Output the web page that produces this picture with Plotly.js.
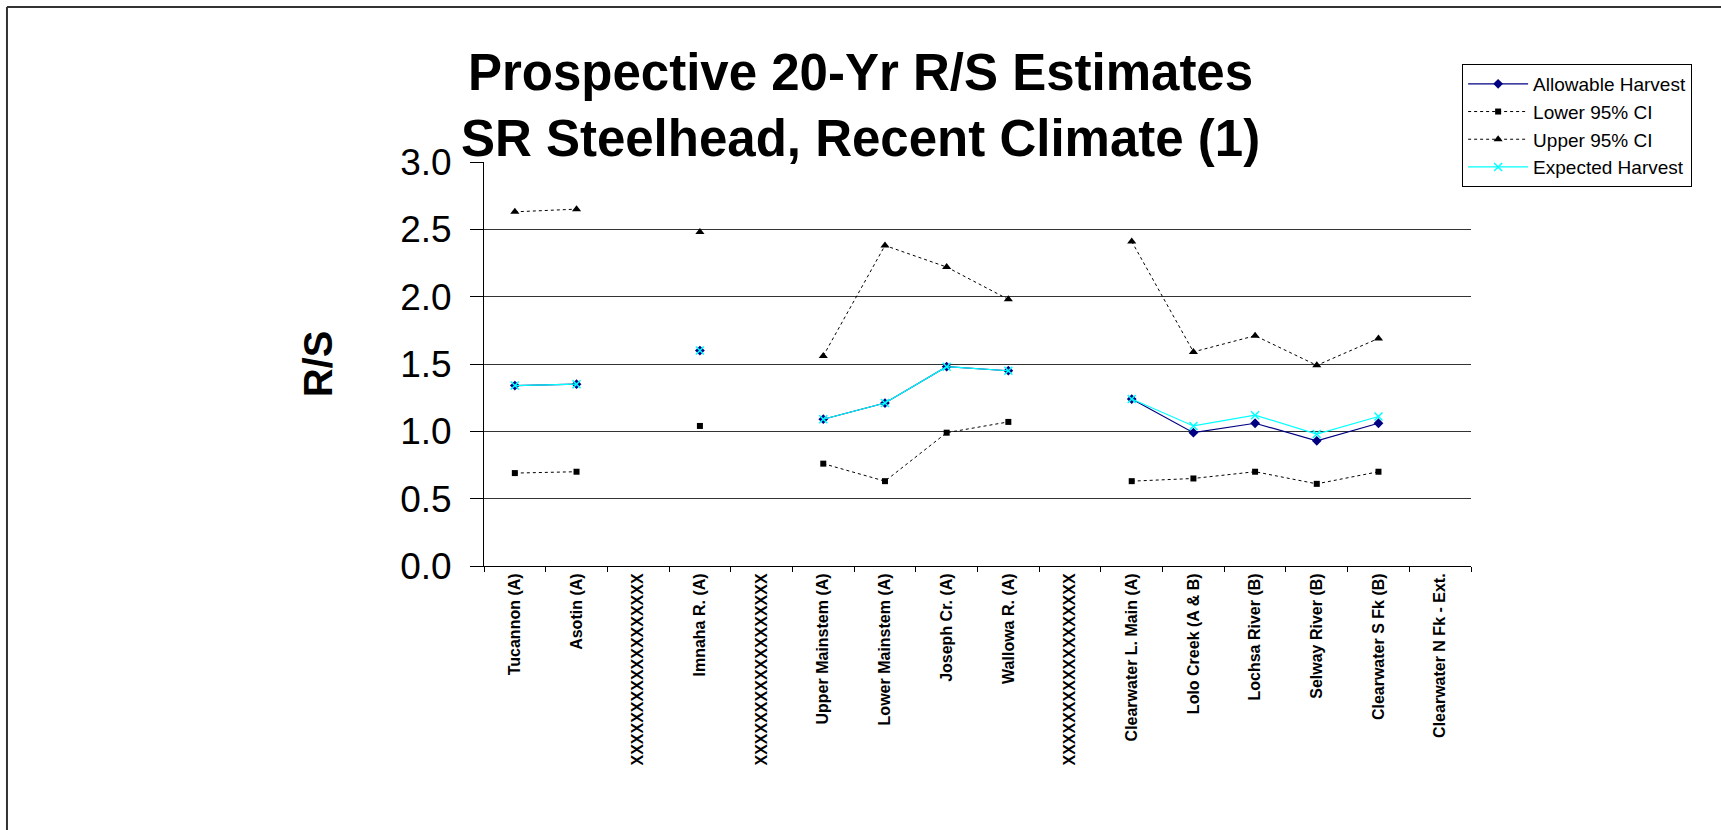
<!DOCTYPE html>
<html>
<head>
<meta charset="utf-8">
<script src="https://cdn.plot.ly/plotly-3.0.1.min.js"></script>
<style>
  html, body { margin: 0; padding: 0; background: #fff; }
  #chart { width: 1721px; height: 830px; }
</style>
</head>
<body>
<div id="chart"></div>
<script>
// Populations along the x axis (the X rows are blank placeholders)
const populations = [
  "Tucannon (A)",
  "Asotin (A)",
  "XXXXXXXXXXXXXXXXXX",
  "Imnaha R. (A)",
  "XXXXXXXXXXXXXXXXXX",
  "Upper Mainstem (A)",
  "Lower Mainstem (A)",
  "Joseph Cr. (A)",
  "Wallowa R. (A)",
  "XXXXXXXXXXXXXXXXXX",
  "Clearwater L. Main (A)",
  "Lolo Creek (A & B)",
  "Lochsa River (B)",
  "Selway River (B)",
  "Clearwater S Fk (B)",
  "Clearwater N Fk - Ext."
];

const allowableHarvest = [1.34, 1.35, null, 1.60, null, 1.09, 1.21, 1.48, 1.45, null, 1.24, 0.99, 1.06, 0.93, 1.06, null];
const lowerCI = [0.69, 0.70, null, 1.04, null, 0.76, 0.63, 0.99, 1.07, null, 0.63, 0.65, 0.70, 0.61, 0.70, null];
const upperCI = [2.63, 2.65, null, 2.48, null, 1.56, 2.38, 2.22, 1.98, null, 2.41, 1.59, 1.71, 1.49, 1.69, null];
const expectedHarvest = [1.34, 1.35, null, 1.60, null, 1.09, 1.21, 1.48, 1.45, null, 1.24, 1.04, 1.12, 0.98, 1.11, null];

const yTicks = [0, 0.5, 1.0, 1.5, 2.0, 2.5, 3.0];

const FONT = "Liberation Sans, Arial, Helvetica, sans-serif";
const xIndex = populations.map((_, i) => i);

const traces = [
  {
    name: "Allowable Harvest",
    x: xIndex,
    y: allowableHarvest,
    mode: "lines+markers",
    line: { color: "#000080", width: 1.2 },
    marker: { symbol: "diamond", size: 7.5, color: "#000080" },
  },
  {
    name: "Lower 95% CI",
    x: xIndex,
    y: lowerCI,
    mode: "lines+markers",
    line: { color: "#000000", width: 1, dash: "dot" },
    marker: { symbol: "square", size: 6, color: "#000000" },
  },
  {
    name: "Upper 95% CI",
    x: xIndex,
    y: upperCI,
    mode: "lines+markers",
    line: { color: "#000000", width: 1, dash: "dot" },
    marker: { symbol: "triangle-up", size: 8, color: "#000000" },
  },
  {
    name: "Expected Harvest",
    x: xIndex,
    y: expectedHarvest,
    mode: "lines+markers",
    line: { color: "#00FFFF", width: 1.2 },
    marker: { symbol: "x-thin", size: 8, color: "#00FFFF", line: { color: "#00FFFF", width: 1.5 } },
  },
];

const layout = {
  width: 1721,
  height: 830,
  margin: { l: 484, r: 250, t: 162, b: 264 },
  paper_bgcolor: "#ffffff",
  plot_bgcolor: "#ffffff",
  font: { family: FONT, color: "#000" },
  showlegend: true,
  title: {
    text: "Prospective 20-Yr R/S Estimates<br>SR Steelhead, Recent Climate (1)",
    font: { family: FONT, size: 51, weight: "bold", color: "#000" },
    x: 0.5,
    xref: "container",
    xanchor: "center",
    y: 0.892,
    yref: "container",
    yanchor: "top",
  },
  xaxis: {
    type: "category",
    tickmode: "array",
    tickvals: xIndex,
    ticktext: populations,
    tickson: "boundaries",
    tickangle: -90,
    ticks: "outside",
    ticklen: 5,
    tickcolor: "#000",
    tickfont: { family: FONT, size: 16, weight: "bold", color: "#000" },
    showline: true,
    linecolor: "#000",
    linewidth: 1,
    showgrid: false,
    zeroline: false,
    range: [-0.5, 15.5],
    fixedrange: true,
  },
  yaxis: {
    range: [0, 3],
    tickmode: "array",
    tickvals: yTicks,
    tickformat: ".1f",
    ticks: "outside",
    ticklen: 13,
    tickcolor: "#000",
    tickfont: { family: FONT, size: 37, color: "#000" },
    ticklabelstandoff: 11,
    showline: true,
    linecolor: "#000",
    linewidth: 1,
    showgrid: true,
    gridcolor: "#333333",
    gridwidth: 1,
    zeroline: false,
    title: {
      text: "R/S",
      font: { family: FONT, size: 40, weight: "bold", color: "#000" },
      standoff: 55,
    },
    fixedrange: true,
  },
  legend: {
    x: 0.991,
    xanchor: "left",
    y: 1.2426,
    yanchor: "top",
    bgcolor: "#ffffff",
    bordercolor: "#000000",
    borderwidth: 1,
    itemwidth: 60,
    font: { family: FONT, size: 19, color: "#000" },
    tracegroupgap: 0,
  },
  // outer chart frame (left and top edges visible in the picture)
  shapes: [
    { type: "line", xref: "paper", yref: "paper", x0: -0.4833, x1: -0.4833, y0: -0.66, y1: 1.3837, line: { color: "#333", width: 2 } },
    { type: "line", xref: "paper", yref: "paper", x0: -0.4833, x1: 1.26, y0: 1.3837, y1: 1.3837, line: { color: "#333", width: 2 } },
  ],
};

Plotly.newPlot("chart", traces, layout, { staticPlot: true, displayModeBar: false });
</script>
</body>
</html>
